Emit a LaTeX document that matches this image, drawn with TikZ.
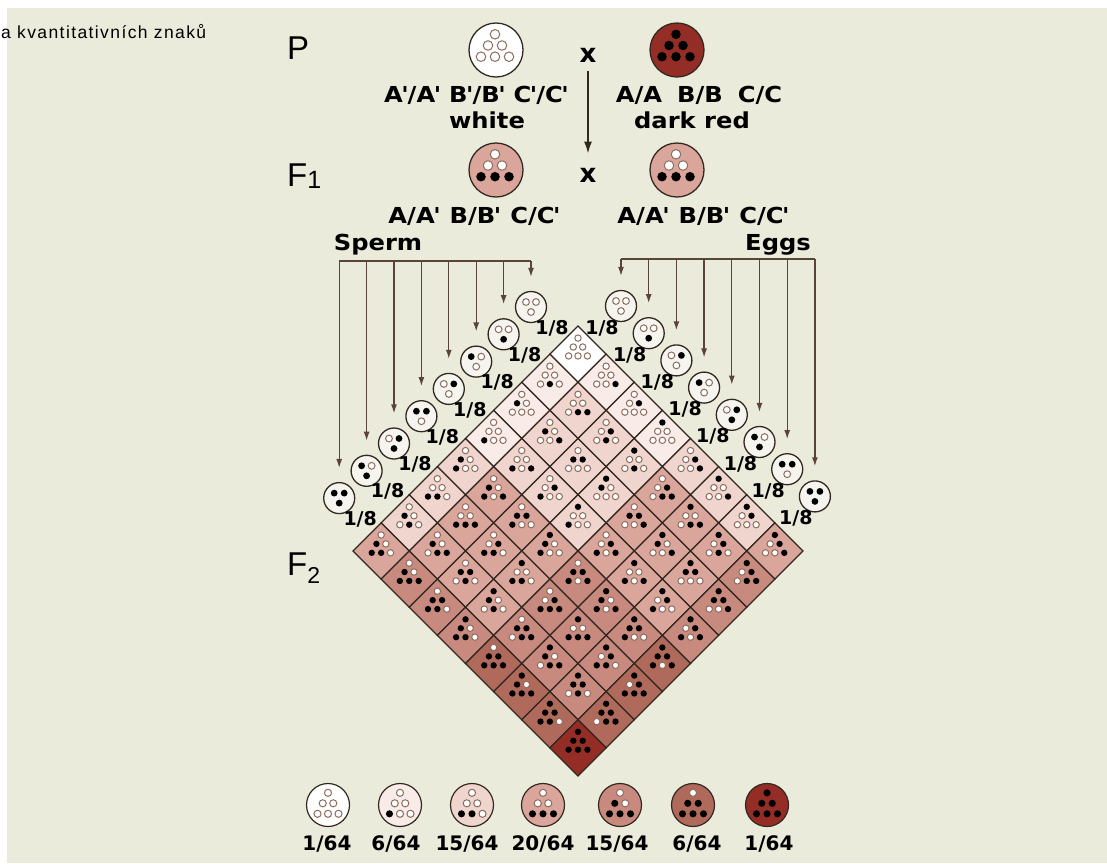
\documentclass[tikz,border=0pt]{standalone}
\usepackage{fontspec}
\setmainfont{DejaVu Sans}
\newfontfamily\genofont{DejaVu Sans}[FakeStretch=1.1]
\newfontfamily\gensfont{Liberation Sans}
\newfontfamily\titlefont{Liberation Sans}[LetterSpace=8]
\usetikzlibrary{arrows.meta}

\definecolor{paper}{RGB}{235,235,220}
\definecolor{ring}{RGB}{140,110,95}
\definecolor{ink}{RGB}{50,40,32}
\definecolor{wire}{RGB}{90,68,56}
\definecolor{gamfill}{RGB}{245,244,238}
\definecolor{shade0}{RGB}{255,255,255}
\definecolor{shade1}{RGB}{248,235,232}
\definecolor{shade2}{RGB}{240,213,207}
\definecolor{shade3}{RGB}{218,166,155}
\definecolor{shade4}{RGB}{200,138,127}
\definecolor{shade5}{RGB}{176,106,92}
\definecolor{shade6}{RGB}{148,45,38}

% tight prime
\newcommand{\pr}{\kern-1.5pt'\kern-1pt}
% six alleles: centre, spacing, row factor, then T ML MR BL BM BR
\newcommand{\sixdots}[9]{%
  \begin{scope}[shift={#1}, scale=#2]
    \path[dot#4] (0,-#3) circle (0.34);
    \path[dot#5] (-0.5,0) circle (0.34);
    \path[dot#6] (0.5,0) circle (0.34);
    \path[dot#7] (-1,#3) circle (0.34);
    \path[dot#8] (0,#3) circle (0.34);
    \path[dot#9] (1,#3) circle (0.34);
  \end{scope}}
% three alleles of a gamete
\newcommand{\threedots}[4]{%
  \begin{scope}[shift={(#1)}]
    \path[dot#2] (-5,-5) circle (3.4);
    \path[dot#3] (5,-5) circle (3.4);
    \path[dot#4] (0,5) circle (3.4);
  \end{scope}}

\begin{document}
\begin{tikzpicture}[x=1pt, y=-1pt,
    dot0/.style={draw=ring, fill=white, line width=1pt},
    dot1/.style={fill=black},
    parent/.style={circle, draw=ink, line width=1.3pt, minimum size=54pt, inner sep=0pt},
    sample/.style={circle, draw=ink, line width=1.2pt, minimum size=43pt, inner sep=0pt},
    gamete/.style={circle, draw=ink, fill=gamfill, line width=1.3pt, minimum size=31pt, inner sep=0pt},
    cellbox/.style={draw=ink, line width=1.1pt},
    feed/.style={draw=wire, line width=1.3pt},
    feedarrow/.style={feed, -{Latex[length=9pt,width=6pt]}},
    gen/.style={anchor=base west, inner sep=0pt, font=\gensfont\fontsize{33}{36}\selectfont},
    geno/.style={anchor=base, inner sep=0pt, font=\genofont\bfseries\fontsize{22}{24}\selectfont},
    frac/.style={inner sep=0pt, font=\bfseries\fontsize{19}{20}\selectfont},
    cross/.style={inner sep=0pt, font=\bfseries\fontsize{26}{26}\selectfont}]

  % Background
  \useasboundingbox (0,0) rectangle (1107,863);
  \fill[white] (0,0) rectangle (1107,863);
  \fill[paper] (7,8) rectangle (1107,863);
  \node[anchor=base west, inner sep=0pt, font=\titlefont\fontsize{17.5}{20}\selectfont] (title) at (1,38) {a kvantitativních znaků};

  % Generations
  \node[gen] (p) at (287,59) {P};
  \node[gen] (f1) at (287,186) {F\raisebox{-2pt}{\fontsize{25}{25}\selectfont 1}};
  \node[gen] (f2) at (287,575) {F\raisebox{-8pt}{\fontsize{23}{23}\selectfont 2}};

  % Parents and F1
  \node[parent, fill=shade0] (pw) at (496,50) {};
  \node[parent, fill=shade6] (pd) at (677,50) {};
  \node[parent, fill=shade3] (fa) at (496,170) {};
  \node[parent, fill=shade3] (fb) at (677,170) {};
  \sixdots{(495,45.5)}{14}{0.8}{0}{0}{0}{0}{0}{0}
  \sixdots{(676,45.5)}{14}{0.8}{1}{1}{1}{1}{1}{1}
  \sixdots{(495,165.5)}{14}{0.8}{0}{0}{0}{1}{1}{1}
  \sixdots{(676,165.5)}{14}{0.8}{0}{0}{0}{1}{1}{1}
  \node[geno] (gw) at (476,102) {A\pr/A\pr\hspace{9pt}B\pr/B\pr\hspace{9pt}C\pr/C\pr};
  \node[geno] (tw) at (487,128) {white};
  \node[geno] (gd) at (699,102) {A/A\hspace{15pt}B/B\hspace{15pt}C/C};
  \node[geno] (td) at (692,128) {dark red};
  \node[geno] (ga) at (474,223) {A/A\pr\hspace{10pt}B/B\pr\hspace{10pt}C/C\pr};
  \node[geno] (gb) at (703,223) {A/A\pr\hspace{10pt}B/B\pr\hspace{10pt}C/C\pr};
  \node[cross] (x1) at (588,55) {x};
  \node[cross] (x2) at (588,175) {x};
  \draw[draw=ink, line width=2pt, -{Latex[length=12pt,width=8pt]}, shorten <=9pt, shorten >=14pt] (x1) -- (x2);

  % F2 square, sperm rows and egg columns
  \foreach \s/\sa/\sb/\sc in {1/0/0/0,2/0/0/1,3/1/0/0,4/0/1/0,5/1/1/0,6/0/1/1,7/1/0/1,8/1/1/1}
    \foreach \e/\ea/\eb/\ec in {1/0/0/0,2/0/0/1,3/0/1/0,4/1/0/0,5/0/1/1,6/1/0/1,7/1/1/0,8/1/1/1} {
      \pgfmathsetmacro\cx{578+28.125*(\e-\s)}
      \pgfmathsetmacro\cy{326+28.125*(\s+\e-2)}
      \pgfmathtruncatemacro\k{\sa+\sb+\sc+\ea+\eb+\ec}
      \filldraw[cellbox, fill=shade\k] (\cx,\cy) -- ++(28.125,28.125) -- ++(-28.125,28.125) -- ++(-28.125,-28.125) -- cycle;
      \sixdots{(\cx,\cy+21)}{9.4}{0.95}{\ea}{\sa}{\eb}{\sb}{\sc}{\ec}
    }

  % Sperm
  \coordinate (sbus) at (0,261);
  \node[geno] (sperm) at (378,250) {Sperm};
  \foreach \i/\a/\b/\c in {1/0/0/0,2/0/0/1,3/1/0/0,4/0/1/0,5/1/1/0,6/0/1/1,7/1/0/1,8/1/1/1} {
    \node[gamete] (s\i) at ({531-27.4*(\i-1)},{307+27.3*(\i-1)}) {};
    \threedots{s\i}{\a}{\b}{\c}
    \node[frac] (sf\i) at ([shift={(21,21)}]s\i.center) {1/8};
    \draw[feedarrow] (s\i |- sbus) -- ([yshift=14pt]s\i.north);
  }
  \draw[feed] (s8 |- sbus) -- (s1 |- sbus);

  % Eggs
  \coordinate (ebus) at (0,259);
  \node[geno] (eggs) at (778,250) {Eggs};
  \foreach \j/\a/\b/\c in {1/0/0/0,2/0/0/1,3/0/1/0,4/1/0/0,5/0/1/1,6/1/0/1,7/1/1/0,8/1/1/1} {
    \node[gamete] (e\j) at ({621+27.7*(\j-1)},{306+27.2*(\j-1)}) {};
    \threedots{e\j}{\a}{\b}{\c}
    \node[frac] (ef\j) at ([shift={(-19,22)}]e\j.center) {1/8};
    \draw[feedarrow] (e\j |- ebus) -- ([yshift=14pt]e\j.north);
  }
  \draw[feed] (e1 |- ebus) -- (e8 |- ebus);

  % Phenotype classes
  \foreach \k/\x/\lx/\n in {0/328/327/1,1/400/396/6,2/472/467/15,3/543/543/20,4/620/617/15,5/693/697/6,6/767/769/1} {
    \node[sample, fill=shade\k] (c\k) at (\x,805) {};
    \pgfmathtruncatemacro\dT{\k>=6}
    \pgfmathtruncatemacro\dML{\k>=4}
    \pgfmathtruncatemacro\dMR{\k>=5}
    \pgfmathtruncatemacro\dBL{\k>=1}
    \pgfmathtruncatemacro\dBM{\k>=2}
    \pgfmathtruncatemacro\dBR{\k>=3}
    \sixdots{(\x,803.3)}{10.5}{1}{\dT}{\dML}{\dMR}{\dBL}{\dBM}{\dBR}
    \node[frac, anchor=base, font=\bfseries\fontsize{20}{22}\selectfont] (n\k) at (\lx,850) {\n/64};
  }
\end{tikzpicture}
\end{document}
